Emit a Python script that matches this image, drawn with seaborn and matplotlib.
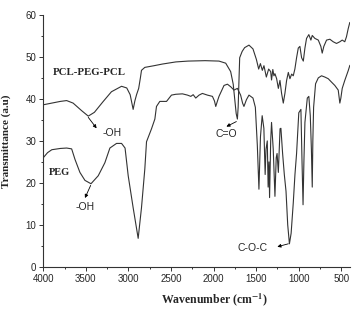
import pandas as pd
import matplotlib
matplotlib.use("Agg")
import matplotlib.pyplot as plt
import seaborn as sns
from matplotlib.ticker import MultipleLocator

# FTIR spectrum of PCL-PEG-PCL copolymer (wavenumber in cm-1, transmittance a.u.)
copol_wn = [4000, 3900, 3800, 3726, 3650, 3550, 3472, 3400, 3300, 3200,
            3081, 3020, 2980, 2960, 2945, 2925, 2905, 2880, 2860, 2847,
            2808, 2700, 2600, 2444, 2300, 2100, 1937, 1858, 1800, 1770,
            1750, 1735, 1721, 1712, 1703, 1694, 1665, 1636, 1585, 1538,
            1498, 1471, 1451, 1428, 1409, 1381, 1354, 1330, 1320, 1305,
            1292, 1280, 1260, 1240, 1221, 1202, 1182, 1163, 1143, 1123,
            1104, 1084, 1065, 1046, 1026, 1006, 987, 967, 947, 928,
            909, 882, 858, 842, 811, 771, 741, 725, 706, 674,
            635, 596, 557, 518, 490, 460, 440, 420, 401]
copol_t = [38.6, 39.0, 39.4, 39.6, 39.0, 37.2, 35.9, 36.8, 39.3, 41.7,
           43.0, 42.6, 41.0, 39.0, 37.5, 39.5, 41.0, 42.5, 45.0, 46.8,
           47.5, 47.9, 48.3, 48.8, 49.0, 49.1, 49.0, 48.5, 46.5, 43.5,
           39.5, 36.5, 35.2, 38.0, 44.0, 49.8, 51.3, 52.2, 52.8, 51.9,
           49.4, 47.1, 48.4, 46.8, 47.9, 45.2, 47.1, 46.5, 44.5, 47.0,
           45.5, 46.0, 44.8, 42.5, 44.4, 41.3, 39.0, 41.3, 44.4, 46.3,
           44.8, 45.9, 45.5, 47.1, 49.8, 52.1, 52.5, 49.8, 49.0, 52.1,
           54.4, 55.3, 54.0, 55.1, 54.4, 54.0, 52.5, 50.9, 52.5, 54.0,
           54.2, 53.6, 53.2, 53.6, 54.0, 53.6, 54.8, 56.7, 58.2]

# FTIR spectrum of PEG
peg_wn = [4000, 3950, 3900, 3800, 3726, 3667, 3628, 3570, 3511, 3440,
          3355, 3277, 3218, 3140, 3081, 3040, 3003, 2945, 2886, 2847,
          2808, 2788, 2729, 2690, 2671, 2632, 2553, 2495, 2444, 2366,
          2307, 2268, 2240, 2210, 2171, 2132, 2073, 2014, 1990, 1975,
          1955, 1937, 1878, 1838, 1800, 1761, 1721, 1683, 1660, 1644,
          1615, 1585, 1538, 1510, 1487, 1468, 1450, 1430, 1410, 1395,
          1385, 1370, 1360, 1350, 1343, 1330, 1320, 1300, 1280, 1265,
          1255, 1240, 1220, 1210, 1190, 1170, 1150, 1130, 1110, 1090,
          1065, 1045, 1026, 1000, 975, 962, 950, 940, 928, 900,
          882, 865, 852, 842, 835, 826, 803, 771, 733, 694,
          654, 616, 577, 537, 518, 506, 490, 460, 420, 400]
peg_t = [26.0, 27.2, 27.9, 28.2, 28.3, 28.1, 25.6, 22.5, 20.6, 19.8,
         21.7, 24.8, 28.3, 29.4, 29.4, 28.3, 21.7, 14.1, 6.8, 14.1,
         23.3, 29.8, 32.9, 35.2, 38.2, 39.4, 39.4, 40.9, 41.1, 41.2,
         40.9, 40.6, 41.0, 40.2, 40.9, 41.3, 40.9, 40.6, 39.5, 38.2,
         39.5, 40.6, 43.2, 43.5, 42.9, 42.1, 42.5, 40.9, 39.0, 38.2,
         39.8, 40.9, 40.2, 38.0, 29.0, 18.5, 31.0, 36.0, 33.0, 22.0,
         28.0, 30.0, 19.0, 25.0, 16.5, 30.0, 34.4, 28.0, 16.8, 26.0,
         27.0, 22.5, 32.9, 33.0, 27.0, 22.0, 18.0, 10.0, 5.5, 8.0,
         15.2, 22.0, 27.0, 36.7, 37.5, 25.0, 14.8, 25.0, 34.4, 40.2,
         40.6, 36.0, 28.0, 19.0, 30.0, 38.0, 43.6, 45.0, 45.5, 45.2,
         44.8, 44.0, 43.2, 42.1, 39.0, 40.2, 42.5, 44.4, 46.7, 48.0]

df = pd.concat([
    pd.DataFrame({'wn': copol_wn, 't': copol_t, 'sample': 'PCL-PEG-PCL'}),
    pd.DataFrame({'wn': peg_wn, 't': peg_t, 'sample': 'PEG'}),
])

sns.set_style("ticks")
plt.rcParams['font.family'] = ['Liberation Sans', 'DejaVu Sans']
plt.rcParams['mathtext.fontset'] = 'stix'

fig, ax = plt.subplots(figsize=(3.52, 3.10), dpi=100)
fig.subplots_adjust(left=0.123, right=0.994, bottom=0.139, top=0.952)

sns.lineplot(data=df, x='wn', y='t', units='sample', estimator=None,
             color='#333333', linewidth=0.8, ax=ax, legend=False)

ax.set_xlim(4000, 400)
ax.set_ylim(0, 60)
ax.xaxis.set_major_locator(MultipleLocator(500))
ax.xaxis.set_minor_locator(MultipleLocator(250))
ax.yaxis.set_major_locator(MultipleLocator(10))
ax.yaxis.set_minor_locator(MultipleLocator(5))
ax.tick_params(which='major', length=3, width=0.7, labelsize=7, pad=2, color='#333333')
ax.tick_params(which='minor', length=1.5, width=0.7, color='#333333')
for s in ['left', 'bottom']:
    ax.spines[s].set_linewidth(0.8)
    ax.spines[s].set_color('#333333')
sns.despine(ax=ax)

serif = ['Liberation Serif', 'DejaVu Serif']
ax.set_xlabel('Wavenumber (cm$^{\\mathbf{-1}}$)', family=serif, fontweight='bold', fontsize=8.5)
ax.set_ylabel('Transmittance (a.u)', family=serif, fontweight='bold', fontsize=8)
ax.xaxis.set_label_coords(0.557, -0.095)
ax.yaxis.set_label_coords(-0.105, 0.5)

# sample names
ax.text(3885, 46.3, 'PCL-PEG-PCL', family=serif, fontweight='bold', fontsize=7.8, va='center')
ax.text(3930, 22.5, 'PEG', family=serif, fontweight='bold', fontsize=7.5, va='center')

# band labels with arrows
arrow = dict(arrowstyle='-|>', lw=0.6, color='black', mutation_scale=5, shrinkA=0, shrinkB=0)
ax.annotate('', xy=(3374, 33.0), xytext=(3472, 35.6), arrowprops=arrow)
ax.text(3198, 31.9, '-OH', fontsize=7.5, ha='center', va='center')
ax.annotate('', xy=(3511, 16.4), xytext=(3444, 19.4), arrowprops=arrow)
ax.text(3511, 14.2, '-OH', fontsize=7.5, ha='center', va='center')
ax.annotate('', xy=(1850, 33.4), xytext=(1733, 34.6), arrowprops=arrow)
ax.text(1850, 31.7, 'C=O', fontsize=7.5, ha='center', va='center')
ax.annotate('', xy=(1252, 4.8), xytext=(1123, 5.5), arrowprops=arrow)
ax.text(1545, 4.45, 'C-O-C', fontsize=7.5, ha='center', va='center')

plt.savefig('out.png', dpi=100)
